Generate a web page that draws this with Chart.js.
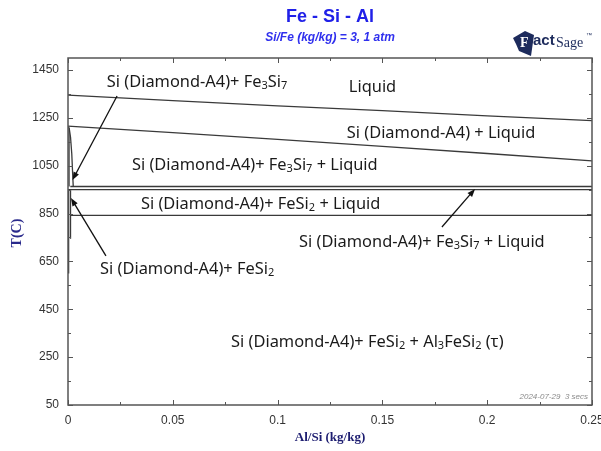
<!DOCTYPE html>
<html>
<head>
<meta charset="utf-8">
<title>Fe - Si - Al</title>
<script src="https://cdn.jsdelivr.net/npm/chart.js@4"></script>
<style>
  body { margin: 0; background: #fff; }
  canvas { display: block; }
</style>
</head>
<body>
<canvas id="chart" width="601" height="451"></canvas>
<script>
// phase boundaries: Al/Si (kg/kg) against T (C)
const liquidusX = [0, 0.05, 0.1, 0.15, 0.2, 0.25];
const liquidusT = [1345, 1322, 1300, 1280, 1258, 1238];

const siLiqX = [0, 0.05, 0.1, 0.15, 0.2, 0.25];
const siLiqT = [1215, 1188, 1160, 1131, 1101, 1070];

const sliverX = [0, 0.0006, 0.0012, 0.0018, 0.0022, 0.0025];
const sliverT = [1215, 1205, 1170, 1100, 1020, 963];
const sliverLeftX = [0.0005, 0.0005];
const sliverLeftT = [1210, 963];

const fe3si7X = [0.0011, 0.25];
const fe3si7T = [963, 963];
const fesi2LiqX = [0, 0.25];
const fesi2LiqT = [950, 950];
const eutecticX = [0.0012, 0.25];
const eutecticT = [842, 842];

const lowAX = [0.0012, 0.0012];
const lowAT = [950, 745];
const lowBX = [0.0003, 0.0003];
const lowBT = [950, 600];

// axes
const xMajor = [0, 0.05, 0.1, 0.15, 0.2, 0.25];
const xLabels = ["0", "0.05", "0.1", "0.15", "0.2", "0.25"];
const xMinor = [0.025, 0.075, 0.125, 0.175, 0.225];
const yMajor = [50, 250, 450, 650, 850, 1050, 1250, 1450];
const yMinor = [150, 350, 550, 750, 950, 1150, 1350];

// region labels ("_" marks a subscript character)
const phaseLabels = [
  { text: "Si (Diamond-A4)+ Fe_3Si_7", x: 0.0185, t: 1400 },
  { text: "Liquid", x: 0.134, t: 1379 },
  { text: "Si (Diamond-A4) + Liquid", x: 0.133, t: 1187 },
  { text: "Si (Diamond-A4)+ Fe_3Si_7 + Liquid", x: 0.0305, t: 1053 },
  { text: "Si (Diamond-A4)+ FeSi_2 + Liquid", x: 0.0348, t: 890 },
  { text: "Si (Diamond-A4)+ Fe_3Si_7 + Liquid", x: 0.1102, t: 731 },
  { text: "Si (Diamond-A4)+ FeSi_2", x: 0.0153, t: 618 },
  { text: "Si (Diamond-A4)+ FeSi_2 + Al_3FeSi_2 (τ)", x: 0.0778, t: 313 },
];
const arrows = [
  { from: [0.0234, 1341], to: [0.00215, 990] },
  { from: [0.0181, 673], to: [0.0014, 915] },
  { from: [0.1784, 794], to: [0.1942, 953] },
];

const pts = (xs, ts) => xs.map((x, i) => ({ x: x, y: ts[i] }));
const curve = (xs, ts) => ({
  data: pts(xs, ts),
  showLine: true,
  borderColor: "#3a3a3a",
  borderWidth: 1.3,
  pointRadius: 0,
  tension: 0,
});

const drawRich = (ctx, str, x, y) => {
  let cx = x;
  for (let i = 0; i < str.length; i++) {
    if (str[i] === "_") {
      i++;
      ctx.font = "11px 'Noto Sans'";
      ctx.fillText(str[i], cx, y + 4);
    } else {
      ctx.font = "16.4px 'Noto Sans'";
      ctx.fillText(str[i], cx, y);
    }
    cx += ctx.measureText(str[i]).width;
  }
};

const decorations = {
  id: "decorations",
  beforeDraw(chart) {
    const ctx = chart.ctx;
    ctx.save();
    ctx.fillStyle = "#fff";
    ctx.fillRect(0, 0, chart.width, chart.height);
    ctx.restore();
  },
  afterDatasetsDraw(chart) {
    const { ctx, chartArea: a, scales: { x, y } } = chart;
    ctx.save();

    // frame + inward ticks on all four sides
    ctx.strokeStyle = "#555";
    ctx.lineWidth = 1.5;
    ctx.strokeRect(a.left, a.top, a.right - a.left, a.bottom - a.top);
    ctx.lineWidth = 1;
    ctx.beginPath();
    const xt = (v, len) => {
      const px = Math.round(x.getPixelForValue(v)) + 0.5;
      ctx.moveTo(px, a.bottom); ctx.lineTo(px, a.bottom - len);
      ctx.moveTo(px, a.top); ctx.lineTo(px, a.top + len);
    };
    const yt = (v, len) => {
      const py = Math.round(y.getPixelForValue(v)) + 0.5;
      ctx.moveTo(a.left, py); ctx.lineTo(a.left + len, py);
      ctx.moveTo(a.right, py); ctx.lineTo(a.right - len, py);
    };
    xMajor.forEach(v => xt(v, 5));
    xMinor.forEach(v => xt(v, 3));
    yMajor.forEach(v => yt(v, 5));
    yMinor.forEach(v => yt(v, 3));
    ctx.stroke();

    // arrows
    ctx.strokeStyle = "#111";
    ctx.fillStyle = "#111";
    ctx.lineWidth = 1.3;
    arrows.forEach(ar => {
      const x0 = x.getPixelForValue(ar.from[0]), y0 = y.getPixelForValue(ar.from[1]);
      const x1 = x.getPixelForValue(ar.to[0]), y1 = y.getPixelForValue(ar.to[1]);
      const ang = Math.atan2(y1 - y0, x1 - x0);
      ctx.beginPath();
      ctx.moveTo(x0, y0);
      ctx.lineTo(x1 - 6 * Math.cos(ang), y1 - 6 * Math.sin(ang));
      ctx.stroke();
      ctx.beginPath();
      ctx.moveTo(x1, y1);
      ctx.lineTo(x1 - 8 * Math.cos(ang) + 3 * Math.sin(ang), y1 - 8 * Math.sin(ang) - 3 * Math.cos(ang));
      ctx.lineTo(x1 - 8 * Math.cos(ang) - 3 * Math.sin(ang), y1 - 8 * Math.sin(ang) + 3 * Math.cos(ang));
      ctx.closePath();
      ctx.fill();
    });

    // region labels
    ctx.fillStyle = "#1a1a1a";
    ctx.textBaseline = "middle";
    ctx.textAlign = "left";
    phaseLabels.forEach(l => drawRich(ctx, l.text, x.getPixelForValue(l.x), y.getPixelForValue(l.t)));

    // time stamp
    ctx.font = "italic 8px 'Liberation Sans'";
    ctx.fillStyle = "#8a8a8a";
    ctx.textAlign = "right";
    ctx.fillText("2024-07-29  3 secs", a.right - 4, a.bottom - 8);

    // titles
    const cx = (a.left + a.right) / 2;
    ctx.textAlign = "center";
    ctx.fillStyle = "#2020e8";
    ctx.font = "bold 18px 'Liberation Sans'";
    ctx.fillText("Fe - Si - Al", cx, 17);
    ctx.fillStyle = "#3030ee";
    ctx.font = "italic bold 12px 'Liberation Sans'";
    ctx.fillText("Si/Fe (kg/kg) = 3, 1 atm", cx, 38);

    // axis titles
    ctx.fillStyle = "#1c1c70";
    ctx.font = "bold 13px 'Liberation Serif'";
    ctx.fillText("Al/Si (kg/kg)", cx, 438);
    ctx.save();
    ctx.translate(17, 233);
    ctx.rotate(-Math.PI / 2);
    ctx.fillStyle = "#2a2a8c";
    ctx.font = "bold 14px 'Liberation Serif'";
    ctx.fillText("T(C)", 0, 0);
    ctx.restore();

    // FactSage mark
    ctx.fillStyle = "#1d2b5c";
    ctx.beginPath();
    ctx.moveTo(513, 38); ctx.lineTo(525, 31); ctx.lineTo(534, 35);
    ctx.lineTo(531, 56); ctx.lineTo(519, 51); ctx.lineTo(516, 44);
    ctx.closePath();
    ctx.fill();
    ctx.fillStyle = "#fff";
    ctx.font = "bold 14px 'Liberation Serif'";
    ctx.textAlign = "left";
    ctx.fillText("F", 520, 43);
    ctx.fillStyle = "#1d2b5c";
    ctx.font = "bold 15px 'Liberation Sans'";
    ctx.fillText("act", 533, 41);
    ctx.font = "14px 'Liberation Serif'";
    ctx.fillText("Sage", 556, 43);
    ctx.font = "6px 'Liberation Sans'";
    ctx.fillText("™", 586, 35);
    ctx.restore();
  },
};

const ctx = document.getElementById("chart").getContext("2d");
new Chart(ctx, {
  type: "scatter",
  data: {
    datasets: [
      curve(liquidusX, liquidusT),
      curve(siLiqX, siLiqT),
      curve(sliverX, sliverT),
      curve(sliverLeftX, sliverLeftT),
      curve(fe3si7X, fe3si7T),
      curve(fesi2LiqX, fesi2LiqT),
      curve(eutecticX, eutecticT),
      curve(lowAX, lowAT),
      curve(lowBX, lowBT),
    ],
  },
  options: {
    responsive: false,
    animation: false,
    layout: { padding: { top: 58, right: 9, left: 0, bottom: 0 } },
    plugins: { legend: { display: false }, tooltip: { enabled: false } },
    scales: {
      x: {
        type: "linear",
        min: 0,
        max: 0.25,
        afterBuildTicks: s => { s.ticks = xMajor.map(v => ({ value: v })); },
        afterFit: s => { s.height = 46; s.paddingLeft = 0; s.paddingRight = 0; },
        grid: { display: false, drawTicks: false },
        border: { display: false },
        ticks: {
          autoSkip: false,
          maxRotation: 0,
          padding: 8,
          color: "#333",
          font: { family: "'Liberation Sans'", size: 12 },
          callback: v => xLabels[xMajor.indexOf(v)],
        },
      },
      y: {
        type: "linear",
        min: 50,
        max: 1500,
        afterBuildTicks: s => { s.ticks = yMajor.map(v => ({ value: v })); },
        afterFit: s => { s.width = 68; s.paddingTop = 0; s.paddingBottom = 0; },
        grid: { display: false, drawTicks: false },
        border: { display: false },
        ticks: {
          autoSkip: false,
          padding: 9,
          color: "#333",
          font: { family: "'Liberation Sans'", size: 12 },
          callback: v => String(v),
        },
      },
    },
  },
  plugins: [decorations],
});
</script>
</body>
</html>
